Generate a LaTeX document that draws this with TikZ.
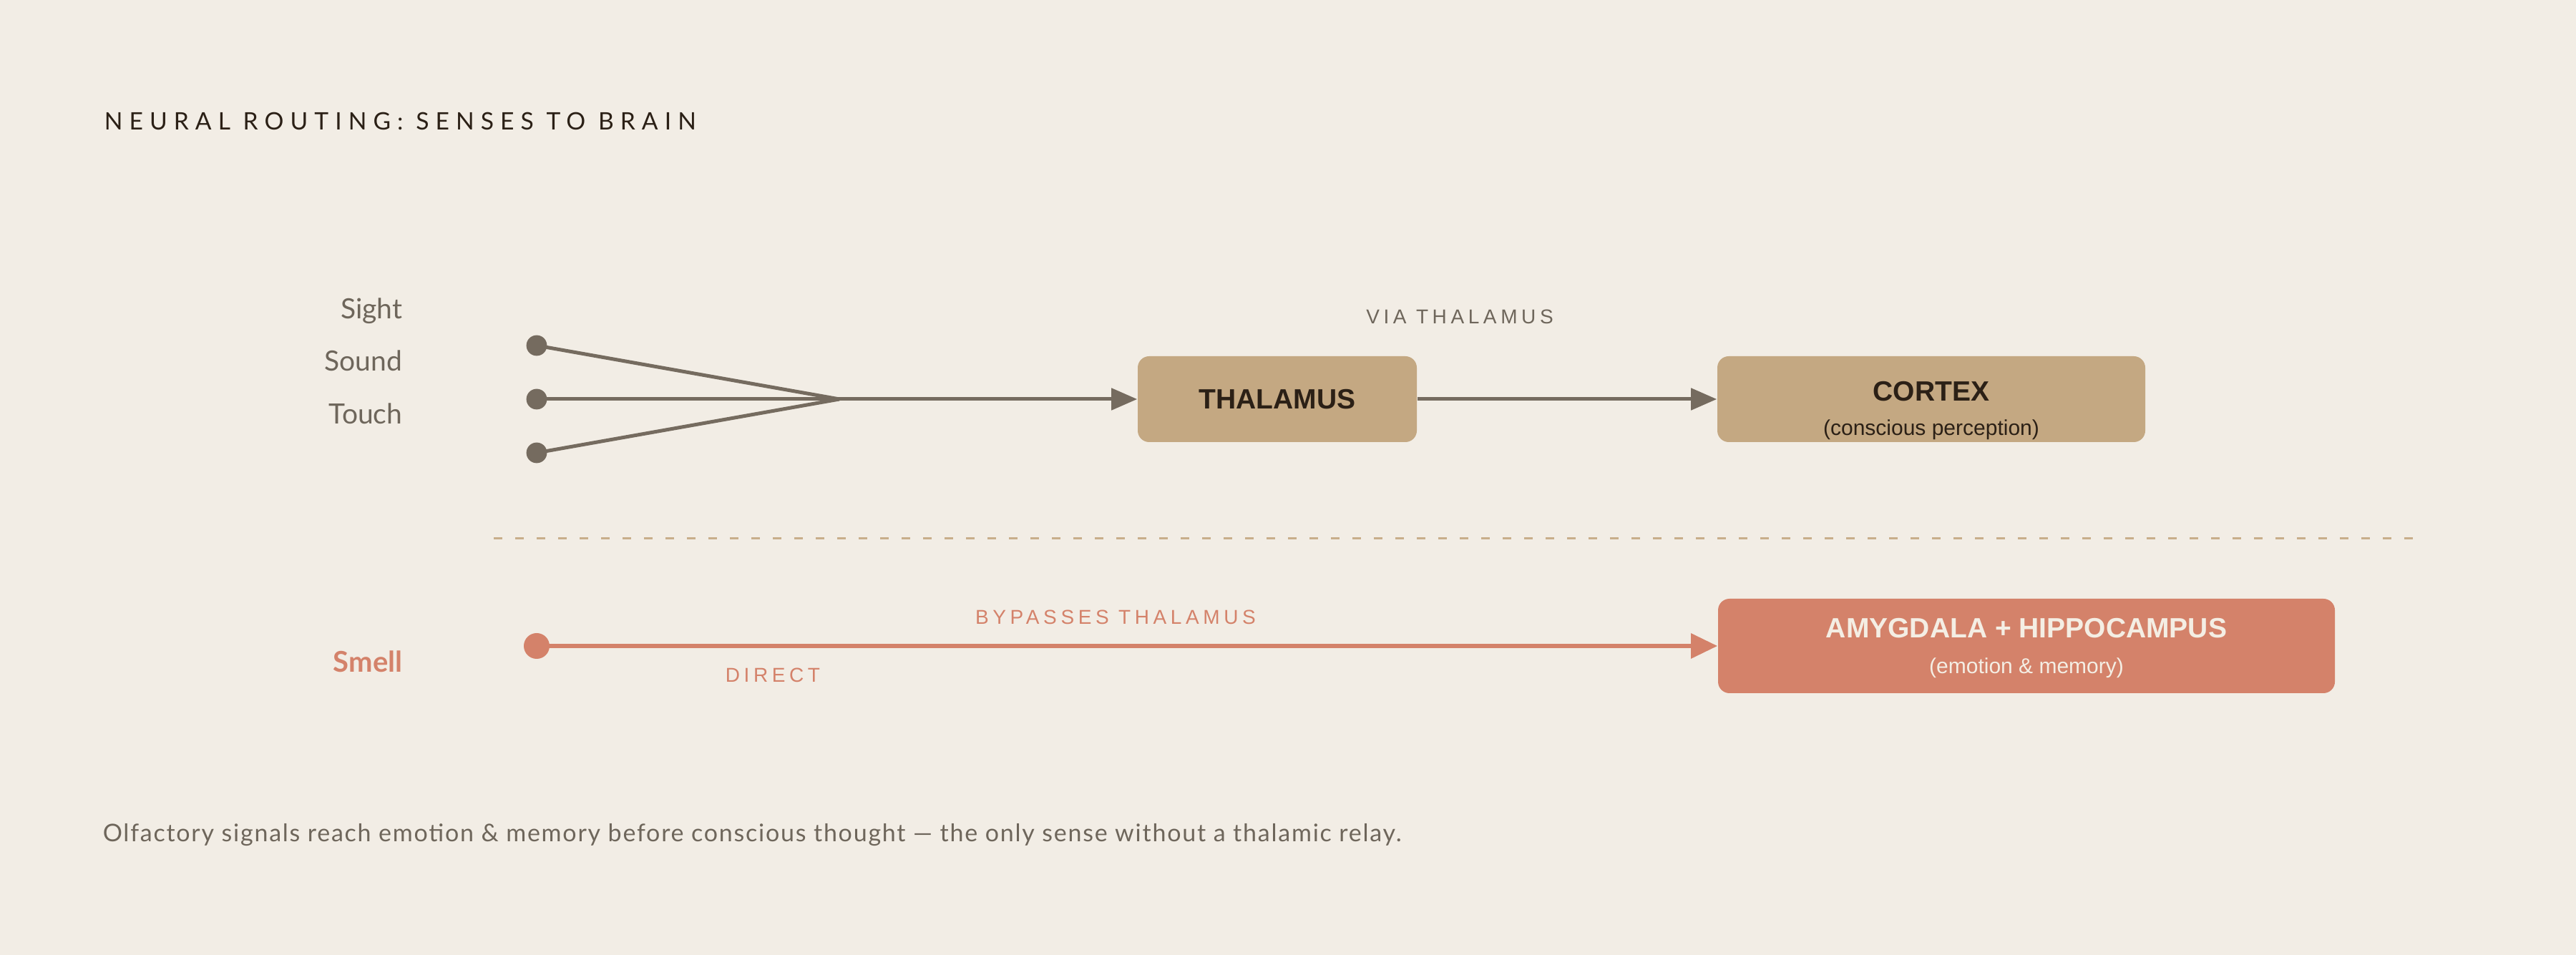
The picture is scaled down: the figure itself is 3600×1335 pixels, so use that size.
\documentclass[tikz,border=0pt]{standalone}
\usepackage{fontspec}
\setmainfont{Lato}
\newfontfamily\lato{Lato}
\newfontfamily\latotitle[LetterSpace=27]{Lato}
\newfontfamily\latofoot[LetterSpace=5.2]{Lato}
\newfontfamily\arial{Liberation Sans}
\newfontfamily\arialsp[LetterSpace=20]{Liberation Sans}
\usetikzlibrary{arrows.meta}
\definecolor{bg}{HTML}{F2EDE5}
\definecolor{tan}{HTML}{C4A882}
\definecolor{dashc}{HTML}{C8AE8A}
\definecolor{darktxt}{HTML}{2B2016}
\definecolor{graytxt}{HTML}{6E665B}
\definecolor{grayline}{HTML}{756B5F}
\definecolor{coral}{HTML}{D4826A}
\definecolor{cream}{HTML}{F4EEE4}
\tikzset{
  x=0.25pt, y=-0.25pt,
  sensedot/.style={circle, fill=grayline, inner sep=0pt, minimum size=7.2pt},
  smelldot/.style={circle, fill=coral, inner sep=0pt, minimum size=9pt},
  tanbox/.style={rectangle, rounded corners=4pt, fill=tan, inner sep=0pt, minimum height=30pt},
  coralbox/.style={rectangle, rounded corners=4pt, fill=coral, inner sep=0pt, minimum height=33pt, minimum width=215.5pt},
  senselbl/.style={anchor=base east, inner sep=0pt, text=graytxt, font=\lato\fontsize{9.75pt}{11pt}\selectfont},
  grayarrow/.style={draw=grayline, line width=1.25pt, -{Triangle[length=9pt,width=7.5pt]}},
  grayline/.style={draw=grayline, line width=1.25pt},
  coralarrow/.style={draw=coral, line width=1.5pt, -{Triangle[length=9.25pt,width=8.5pt]}},
  annot/.style={anchor=base, inner sep=0pt, font=\arialsp\fontsize{7pt}{8pt}\selectfont},
  boxtitle/.style={anchor=base, inner sep=0pt, font=\arial\bfseries\fontsize{9.75pt}{11pt}\selectfont},
  boxsub/.style={anchor=base, inner sep=0pt, font=\arial\fontsize{7.5pt}{9pt}\selectfont},
}
\begin{document}
\begin{tikzpicture}
\fill[bg] (0,0) rectangle (3600,1335);
\useasboundingbox (0,0) rectangle (3600,1335);

% title
\node[anchor=base west, inner sep=0pt, text=darktxt, font=\latotitle\fontsize{8.4pt}{9.5pt}\selectfont] (title) at (145,182) {NEURAL ROUTING: SENSES TO BRAIN};

% sense labels
\node[senselbl] (sight) at (563,446) {Sight};
\node[senselbl] (sound) at (563,519) {Sound};
\node[senselbl] (touch) at (563,593) {Touch};

% boxes
\node[tanbox, minimum width=97.5pt, text=darktxt, font=\arial\bfseries\fontsize{9.75pt}{11pt}\selectfont] (thal) at (1785,558) {THALAMUS};
\node[tanbox, minimum width=149.5pt] (cortex) at (2699,558) {};
\node[boxtitle, text=darktxt] (cortext) at (2699,561) {CORTEX};
\node[boxsub, text=darktxt] (corsub) at (2699,609) {(conscious perception)};

\node[coralbox] (amyg) at (2832,903) {};
\node[boxtitle, text=cream] (amytext) at (2832,892) {AMYGDALA + HIPPOCAMPUS};
\node[boxsub, text=cream] (amysub) at (2832,942) {(emotion \& memory)};

% convergence
\coordinate (conv) at (1173,558);
\coordinate (d1) at (750,483);
\coordinate (d2) at (750,558);
\coordinate (d3) at (750,633);
\draw[grayline] (d1) -- (conv);
\draw[grayline] (d2) -- (conv);
\draw[grayline] (d3) -- (conv);
\node[sensedot] (dot1) at (d1) {};
\node[sensedot] (dot2) at (d2) {};
\node[sensedot] (dot3) at (d3) {};
\draw[grayarrow] (conv) -- (thal.west);
\draw[grayarrow] (thal.east) -- (cortex.west);
\node[annot, text=graytxt] (via) at (2040,453) {VIA THALAMUS};

% divider
\coordinate (dvl) at (690,753);
\coordinate (dvr) at (3372,753);
\draw[dashc, line width=0.75pt, dash pattern=on 3pt off 4.5pt] (dvl) -- (dvr);

% smell
\node[anchor=base east, inner sep=0pt, text=coral, font=\lato\bfseries\fontsize{10pt}{11pt}\selectfont] (smell) at (563,940) {Smell};
\coordinate (ds) at (750,903);
\draw[coralarrow] (ds) -- (amyg.west);
\node[smelldot] (sdot) at (ds) {};
\node[annot, text=coral] (bypass) at (1559,873) {BYPASSES THALAMUS};
\node[annot, text=coral] (direct) at (1080,954) {DIRECT};

% footer
\node[anchor=base west, inner sep=0pt, text=graytxt, font=\latofoot\fontsize{8.5pt}{9.5pt}\selectfont] (foot) at (143,1177) {Olfactory signals reach emotion \& memory before conscious thought — the only sense without a thalamic relay.};
\end{tikzpicture}
\end{document}
